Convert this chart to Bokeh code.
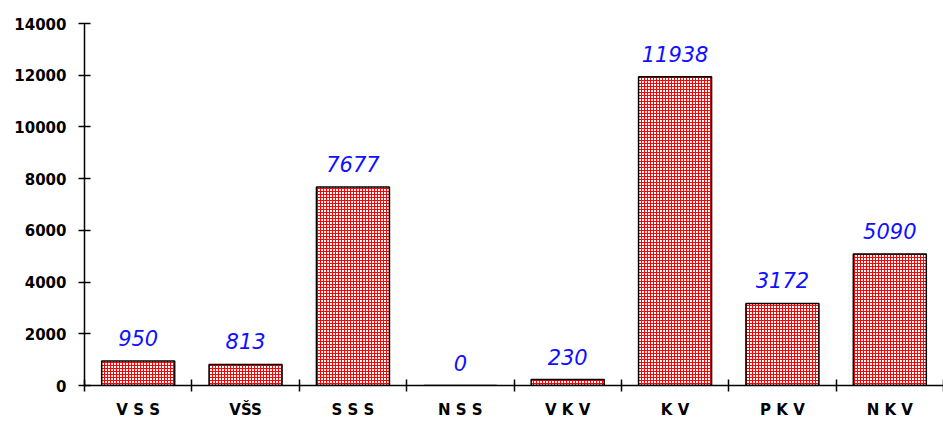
from bokeh.plotting import figure
from bokeh.models import ColumnDataSource, FixedTicker, Range1d, LabelSet
from bokeh.core.properties import value
from bokeh.embed import file_html
from bokeh.resources import INLINE

categories = ["V S S", "VŠS", "S S S", "N S S", "V K V", "K V", "P K V", "N K V"]
values = [950, 813, 7677, 0, 230, 11938, 3172, 5090]
y_ticks = [0, 2000, 4000, 6000, 8000, 10000, 12000, 14000]

xs = [i + 0.5 for i in range(len(categories))]
src = ColumnDataSource(dict(x=xs, top=values, label=[str(v) for v in values]))

p = figure(width=943, height=421, output_backend="svg", toolbar_location=None,
           x_range=Range1d(0, len(categories)), y_range=Range1d(0, 14000),
           min_border_left=84, min_border_right=0, min_border_top=23, min_border_bottom=20)
p.outline_line_color = None
p.xgrid.visible = False
p.ygrid.visible = False

p.vbar(x="x", top="top", width=0.68, bottom=0, source=src,
       fill_color="white", line_color="black", line_width=1.5,
       hatch_pattern="+", hatch_color="red", hatch_scale=3, hatch_weight=1)

labels = LabelSet(x="x", y="top", text="label", source=src, text_align="center",
                  text_baseline="middle", y_offset=23, text_color="#1010ff",
                  text_font=value("DejaVu Sans"), text_font_style="italic",
                  text_font_size="21px")
p.add_layout(labels)

p.xaxis.ticker = FixedTicker(ticks=xs, minor_ticks=list(range(len(categories) + 1)))
p.xaxis.major_label_overrides = {x: c for x, c in zip(xs, categories)}
p.xaxis.major_tick_in = 0
p.xaxis.major_tick_out = 0
p.xaxis.minor_tick_in = 6
p.xaxis.minor_tick_out = 6
p.xaxis.minor_tick_line_width = 1.5
p.xaxis.major_label_standoff = 9

p.yaxis.ticker = FixedTicker(ticks=y_ticks, minor_ticks=[])
p.yaxis.major_tick_in = 6
p.yaxis.major_tick_out = 6
p.yaxis.major_label_standoff = 12

for ax in (p.xaxis, p.yaxis):
    ax.axis_line_width = 1.5
    ax.major_tick_line_width = 1.5
    ax.axis_line_color = "black"
    ax.major_label_text_font = "DejaVu Sans"
    ax.major_label_text_font_style = "bold"
    ax.major_label_text_font_size = "15px"
    ax.major_label_text_color = "black"

open("out.html", "w").write(file_html(p, INLINE))
